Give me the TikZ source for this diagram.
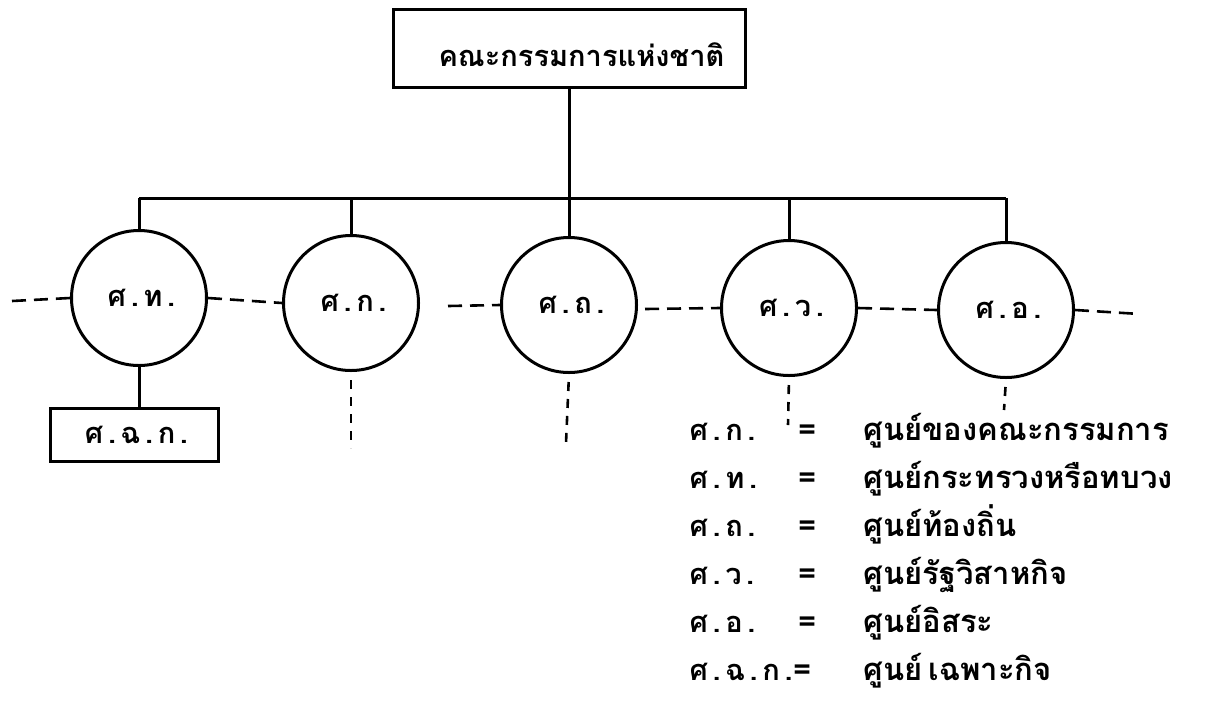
\documentclass[tikz,border=0pt]{standalone}
\usepackage{fontspec}
\newfontfamily\thaifont[Script=Thai]{Loma}
\newfontfamily\thaiabbr[Script=Thai,LetterSpace=16]{Loma}
\begin{document}
\begin{tikzpicture}[x=1pt,y=-1pt,line width=3pt,
  lbl/.style={font=\thaifont\bfseries\fontsize{29}{34}\selectfont, inner sep=0pt},
  abbr/.style={font=\thaiabbr\bfseries\fontsize{29}{34}\selectfont, inner sep=0pt},
  leg/.style={font=\thaifont\bfseries\fontsize{31}{34}\selectfont, inner sep=0pt, anchor=base west},
  legabbr/.style={abbr, anchor=base west},
  ctr/.style={circle, draw, minimum size=135pt, inner sep=0pt, abbr},
  rbox/.style={draw, rectangle, inner sep=0pt},
  dsh/.style={dash pattern=on 14pt off 8pt, line width=2.6pt},
  vdsh/.style={dash pattern=on 9pt off 8pt, line width=2.6pt}]
\useasboundingbox (0,0) rectangle (1214,713);
% top box
\node[rbox, minimum width=352pt, minimum height=78pt] (top) at (569,48) {};
\node[lbl, anchor=base west] (toplbl) at (437,66) {คณะกรรมการแห่งชาติ};
% circles
\node[ctr] (c1) at (139,298) {\hspace*{5pt}ศ.ท.};
\node[ctr] (c2) at (351,303) {\hspace*{5pt}ศ.ก.};
\node[ctr] (c3) at (569,305) {\hspace*{5pt}ศ.ถ.};
\node[ctr] (c4) at (789,308) {\hspace*{5pt}ศ.ว.};
\node[ctr] (c5) at (1006,310) {\hspace*{5pt}ศ.อ.};
% sub box
\node[rbox, abbr, minimum width=168pt, minimum height=53pt] (fck) at (134,435) {\hspace*{5pt}ศ.ฉ.ก.};
% tree
\coordinate (j) at (567,198);
\draw (top.south) -- (top.south |- j);
\draw (c1.north |- j) -- (c5.north |- j);
\foreach \c in {c1,c2,c3,c4,c5} \draw (\c.north |- j) -- (\c.north);
\draw (c1.south) -- (c1.south |- fck.north);
% dashed horizontals
\coordinate (l0) at (12,301);
\coordinate (l2) at (448,306);
\coordinate (l3) at (645,309);
\coordinate (r5) at (1140,314);
\draw[dsh] (l0) -- (c1.west);
\draw[dsh] (c1.east) -- (c2.west);
\draw[dsh] (l2) -- (c3.west);
\draw[dsh] (l3) -- (c4.west);
\draw[dsh] (c4.east) -- (c5.west);
\draw[dsh] (c5.east) -- (r5);
% dashed verticals
\coordinate (d2) at (351,448);
\coordinate (d3) at (566,443);
\coordinate (d4) at (788,425);
\coordinate (d5) at (1004,410);
\draw[vdsh, shorten <=8pt] (c2.south) -- (d2);
\draw[vdsh, shorten <=8pt] (c3.south) -- (d3);
\draw[vdsh, shorten <=8pt] (c4.south) -- (d4);
\draw[vdsh, shorten <=8pt] (c5.south) -- (d5);
% legend
\foreach \y/\a/\b [count=\i] in {440/ศ.ก./ศูนย์ของคณะกรรมการ, 488/ศ.ท./ศูนย์กระทรวงหรือทบวง, 536/ศ.ถ./ศูนย์ท้องถิ่น, 584/ศ.ว./ศูนย์รัฐวิสาหกิจ, 632/ศ.อ./ศูนย์อิสระ}{
  \node[legabbr] (ka\i) at (688,\y) {\a};
  \node[leg] (ke\i) at (797,\y) {=};
  \node[leg] (kb\i) at (862,\y) {\b};
}
\node[legabbr] (ka6) at (688,680) {ศ.ฉ.ก.};
\node[leg] (ke6) at ([xshift=-2pt]ka6.base east) {=};
\node[leg] (kb6) at (862,680) {ศูนย์\hspace{6pt}เฉพาะกิจ};
\end{tikzpicture}
\end{document}
